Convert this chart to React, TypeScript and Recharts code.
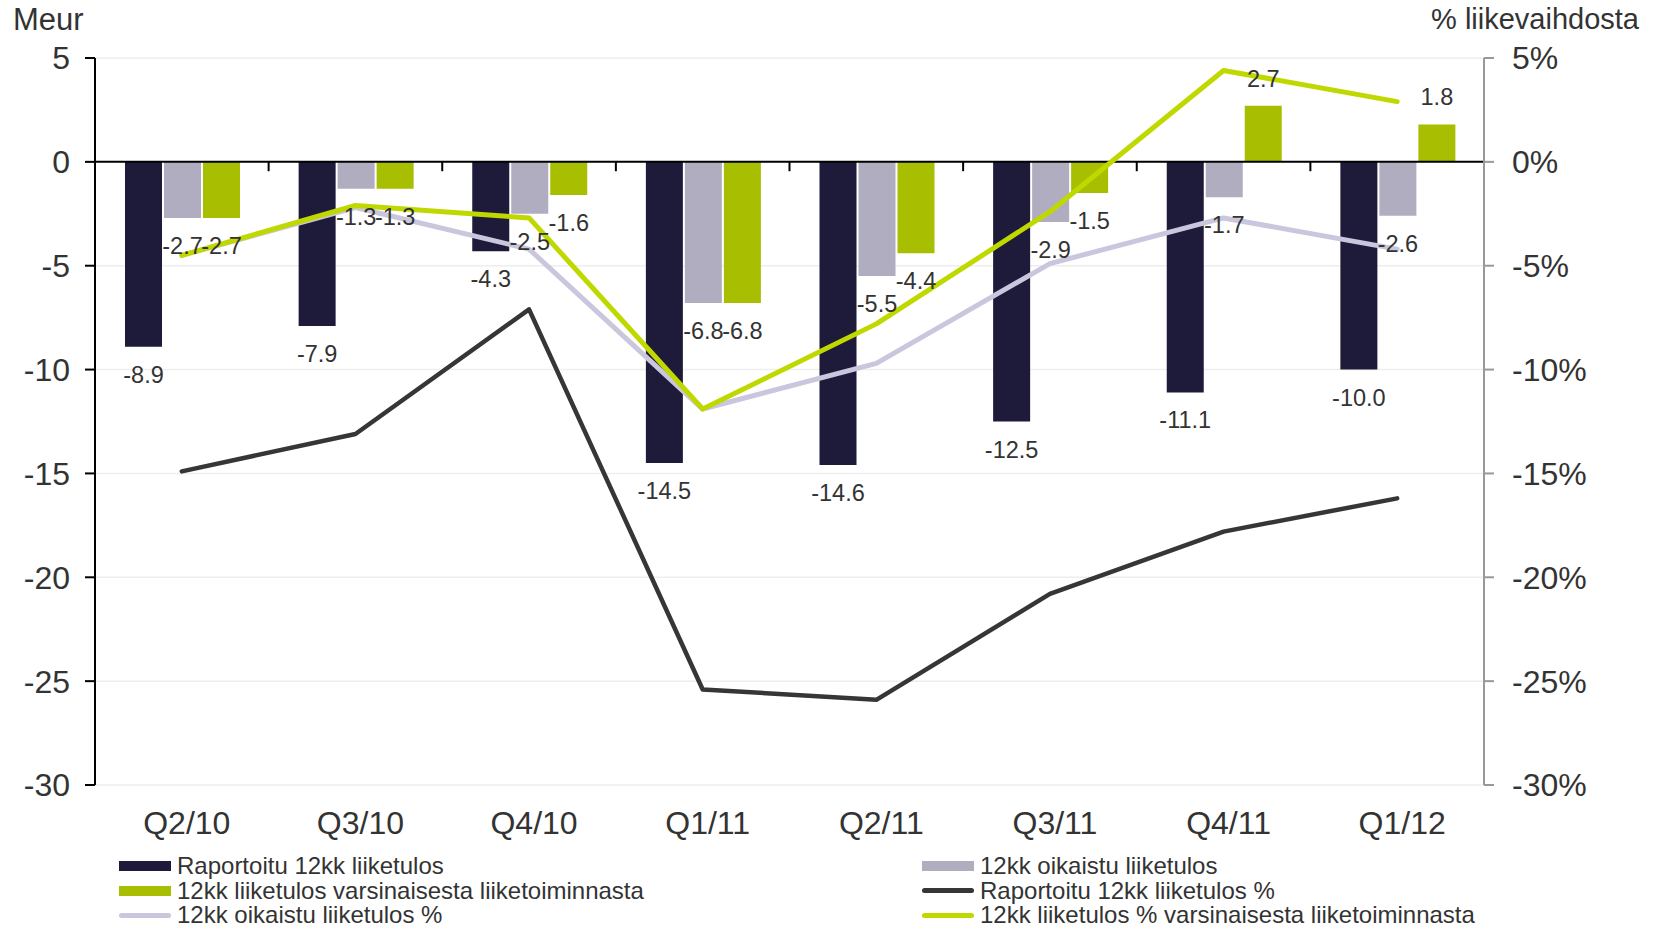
import {
  Bar,
  CartesianGrid,
  ComposedChart,
  Label,
  LabelList,
  Legend,
  Line,
  ReferenceLine,
  XAxis,
  YAxis,
} from "recharts";

// quarters on the category axis
const quarters = ["Q2/10", "Q3/10", "Q4/10", "Q1/11", "Q2/11", "Q3/11", "Q4/11", "Q1/12"];

// Meur, left axis
const reported = [-8.9, -7.9, -4.3, -14.5, -14.6, -12.5, -11.1, -10.0];
const adjusted = [-2.7, -1.3, -2.5, -6.8, -5.5, -2.9, -1.7, -2.6];
const core = [-2.7, -1.3, -1.6, -6.8, -4.4, -1.5, 2.7, 1.8];

// % of revenue, right axis
const reportedPct = [-14.9, -13.1, -7.1, -25.4, -25.9, -20.8, -17.8, -16.2];
const adjustedPct = [-4.5, -2.2, -4.2, -11.9, -9.7, -4.9, -2.7, -4.2];
const corePct = [-4.5, -2.1, -2.7, -11.9, -7.8, -2.4, 4.4, 2.9];

const axisTicks = [5, 0, -5, -10, -15, -20, -25, -30];

const DARK = "#1e1b3a";
const GRAY = "#b0adc0";
const GREEN = "#a8be00";
const LINE_DARK = "#363636";
const LINE_LAV = "#c9c6dd";
const LINE_GREEN = "#bfd900";
const TEXT = "#333333";
const FONT = '"Liberation Sans", Arial, sans-serif';

const data = quarters.map((q, i) => ({
  q,
  idx: i + 0.5,
  reported: reported[i],
  adjusted: adjusted[i],
  core: core[i],
  reportedPct: reportedPct[i],
  adjustedPct: adjustedPct[i],
  corePct: corePct[i],
}));

// small tick marks on the zero line between the quarters
const boundaries = [...quarters.map((_, i) => i), quarters.length];

const legendItems = [
  { label: "Raportoitu 12kk liiketulos", color: DARK, kind: "bar" },
  { label: "12kk oikaistu liiketulos", color: GRAY, kind: "bar" },
  { label: "12kk liiketulos varsinaisesta liiketoiminnasta", color: GREEN, kind: "bar" },
  { label: "Raportoitu 12kk liiketulos %", color: LINE_DARK, kind: "line" },
  { label: "12kk oikaistu liiketulos %", color: LINE_LAV, kind: "line" },
  { label: "12kk liiketulos % varsinaisesta liiketoiminnasta", color: LINE_GREEN, kind: "line" },
];

function BarValueLabel(props: any) {
  const x = Number(props.x);
  const y = Number(props.y);
  const w = Number(props.width);
  const h = Number(props.height);
  const v = Number(props.value);
  const top = Math.min(y, y + h);
  const bottom = Math.max(y, y + h);
  const cy = v < 0 ? bottom + 28 : top - 27;
  return (
    <text
      x={x + w / 2}
      y={cy}
      textAnchor="middle"
      dominantBaseline="central"
      fontSize={23.5}
      fill={TEXT}
      fontFamily={FONT}
    >
      {v.toFixed(1)}
    </text>
  );
}

function ChartLegend() {
  return (
    <div
      style={{
        display: "grid",
        gridTemplateColumns: "803px 700px",
        paddingLeft: 119,
        fontFamily: FONT,
        fontSize: 24,
        color: TEXT,
      }}
    >
      {legendItems.map((item) => (
        <div
          key={item.label}
          style={{ display: "flex", alignItems: "center", height: 24.5, whiteSpace: "nowrap" }}
        >
          {item.kind === "bar" ? (
            <span style={{ width: 52, height: 10, background: item.color, display: "inline-block" }} />
          ) : (
            <span
              style={{
                width: 52,
                height: 5,
                borderRadius: 3,
                background: item.color,
                display: "inline-block",
              }}
            />
          )}
          <span style={{ marginLeft: 6 }}>{item.label}</span>
        </div>
      ))}
    </div>
  );
}

export default function App() {
  return (
    <div style={{ position: "absolute", left: 0, top: 0, fontFamily: FONT, background: "#fff" }}>
      <ComposedChart
        width={1656}
        height={926}
        data={data}
        margin={{ top: 58, right: 0, bottom: 0, left: 0 }}
        barCategoryGap={30}
        barGap={2}
      >
        <CartesianGrid
          xAxisId="cat"
          yAxisId="left"
          vertical={false}
          stroke="#eeeeee"
          strokeWidth={1.5}
        />
        <XAxis
          xAxisId="cat"
          dataKey="q"
          axisLine={false}
          tickLine={false}
          tickSize={0}
          tickMargin={26}
          height={69}
          interval={0}
          tick={{ fontSize: 32, fill: TEXT, dx: 5 }}
        />
        <XAxis xAxisId="edge" type="number" dataKey="idx" domain={[0, quarters.length]} hide />
        <YAxis
          yAxisId="left"
          domain={[-30, 5]}
          ticks={axisTicks}
          interval={0}
          width={95}
          tickSize={10}
          tickMargin={15}
          axisLine={{ stroke: "#000", strokeWidth: 2 }}
          tickLine={{ stroke: "#000", strokeWidth: 2 }}
          tick={{ fontSize: 32, fill: TEXT }}
        >
          <Label
            content={({ viewBox }: any) => (
              <text
                x={viewBox.x + 13}
                y={viewBox.y - 39}
                dominantBaseline="central"
                fontSize={31}
                fill={TEXT}
              >
                Meur
              </text>
            )}
          />
        </YAxis>
        <YAxis
          yAxisId="right"
          orientation="right"
          domain={[-30, 5]}
          ticks={axisTicks}
          interval={0}
          width={172}
          tickSize={10}
          tickMargin={18}
          tickFormatter={(v: number) => `${v}%`}
          axisLine={{ stroke: "#999", strokeWidth: 2 }}
          tickLine={{ stroke: "#999", strokeWidth: 2 }}
          tick={{ fontSize: 32, fill: TEXT }}
        >
          <Label
            content={({ viewBox }: any) => (
              <text
                x={viewBox.x + viewBox.width - 17}
                y={viewBox.y - 39}
                textAnchor="end"
                dominantBaseline="central"
                fontSize={29}
                fill={TEXT}
              >
                % liikevaihdosta
              </text>
            )}
          />
        </YAxis>
        <Legend
          verticalAlign="bottom"
          width={1656}
          height={72}
          wrapperStyle={{ left: 0, bottom: 0 }}
          content={() => <ChartLegend />}
        />

        <Bar xAxisId="cat" yAxisId="left" dataKey="reported" fill={DARK} isAnimationActive={false}>
          <LabelList dataKey="reported" content={BarValueLabel} />
        </Bar>
        <Bar xAxisId="cat" yAxisId="left" dataKey="adjusted" fill={GRAY} isAnimationActive={false}>
          <LabelList dataKey="adjusted" content={BarValueLabel} />
        </Bar>
        <Bar xAxisId="cat" yAxisId="left" dataKey="core" fill={GREEN} isAnimationActive={false}>
          <LabelList dataKey="core" content={BarValueLabel} />
        </Bar>

        <ReferenceLine xAxisId="cat" yAxisId="left" y={0} stroke="#000" strokeWidth={2} />
        {boundaries.map((b) => (
          <ReferenceLine
            key={b}
            xAxisId="edge"
            yAxisId="left"
            segment={[
              { x: b, y: 0 },
              { x: b, y: -0.45 },
            ]}
            stroke="#000"
            strokeWidth={2}
          />
        ))}

        <Line
          xAxisId="cat"
          yAxisId="right"
          type="linear"
          dataKey="reportedPct"
          stroke={LINE_DARK}
          strokeWidth={4.5}
          strokeLinecap="round"
          strokeLinejoin="round"
          dot={false}
          activeDot={false}
          isAnimationActive={false}
        />
        <Line
          xAxisId="cat"
          yAxisId="right"
          type="linear"
          dataKey="adjustedPct"
          stroke={LINE_LAV}
          strokeWidth={5}
          strokeLinecap="round"
          strokeLinejoin="round"
          dot={false}
          activeDot={false}
          isAnimationActive={false}
        />
        <Line
          xAxisId="cat"
          yAxisId="right"
          type="linear"
          dataKey="corePct"
          stroke={LINE_GREEN}
          strokeWidth={5}
          strokeLinecap="round"
          strokeLinejoin="round"
          dot={false}
          activeDot={false}
          isAnimationActive={false}
        />
      </ComposedChart>
    </div>
  );
}
